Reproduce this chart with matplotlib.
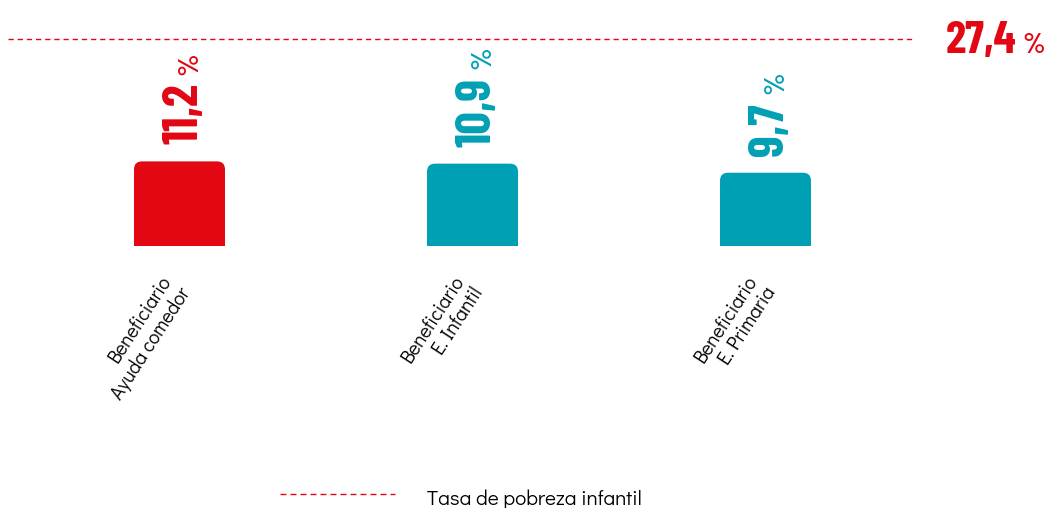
import matplotlib
matplotlib.use('Agg')
import matplotlib.pyplot as plt
from matplotlib.patches import FancyBboxPatch, Rectangle
from matplotlib.lines import Line2D
import matplotlib.transforms as mtransforms

# ---- data ----
categories = ['Beneficiario\nAyuda comedor', 'Beneficiario\nE. Infantil', 'Beneficiario\nE. Primaria']
values = [11.2, 10.9, 9.7]
value_labels = ['11,2', '10,9', '9,7']
reference_value = 27.4
reference_label = '27,4'
legend_label = 'Tasa de pobreza infantil'

RED = '#E30613'
TEAL = '#00A0B4'
colors = [RED, TEAL, TEAL]

NUM_FONT = ['Barlow Condensed', 'Roboto Condensed', 'DejaVu Sans']
TXT_FONT = ['Didact Gothic', 'Questrial', 'Lato', 'DejaVu Sans']

W, H = 1046, 508
fig = plt.figure(figsize=(W / 100, H / 100), dpi=100)
ax = fig.add_axes([0, 0, 1, 1])
ax.axis('off')

px_per_unit = 7.555
spacing = 293.0
x0 = 179.5
base_px = 246
ax.set_xlim(-x0 / spacing, (W - x0) / spacing)
ax.set_ylim(-(H - base_px) / px_per_unit, base_px / px_per_unit)

xs = list(range(len(values)))
bar_w = 91 / spacing
bars = ax.bar(xs, values, width=bar_w, color=colors, linewidth=0)

# rounded top corners
r_px = 8
for b, c in zip(bars, colors):
    b.set_visible(False)
    x, y, w, h = b.get_x(), b.get_y(), b.get_width(), b.get_height()
    rs = r_px / spacing
    p = FancyBboxPatch((x, y), w, h, boxstyle=f"round,pad=0,rounding_size={rs}",
                       mutation_aspect=spacing / px_per_unit, fc=c, ec='none', lw=0)
    ax.add_patch(p)
    ax.add_patch(Rectangle((x, y), w, h / 2, fc=c, ec='none', lw=0))

# reference dashed line
ax.axhline(reference_value, xmin=8 / W, xmax=915 / W, color=RED, lw=1.0,
           linestyle=(0, (3.8, 2.8)))

renderer = fig.canvas.get_renderer()

NUM_SIZE = 36
REF_SIZE = 33
PCT_SIZE = 21

# reference label
btrans = mtransforms.blended_transform_factory(fig.transFigure, ax.transData)
t_ref = ax.text(946 / W, reference_value, reference_label, color=RED, fontsize=REF_SIZE,
                fontweight='bold', family=NUM_FONT, ha='left', va='baseline',
                transform=mtransforms.offset_copy(btrans, fig=fig, y=-14, units='dots'))
bb = t_ref.get_window_extent(renderer)
ax.text(bb.x1 / W, reference_value, '%', color=RED, fontsize=PCT_SIZE, family=NUM_FONT,
        fontweight='semibold', ha='left', va='baseline',
        transform=mtransforms.offset_copy(btrans, fig=fig, x=6, y=-14, units='dots'))

# value labels
for xi, v, lab, c in zip(xs, values, value_labels, colors):
    tr = mtransforms.offset_copy(ax.transData, fig=fig, x=18, y=17, units='dots')
    t = ax.text(xi, v, lab, color=c, fontsize=NUM_SIZE, fontweight='bold', family=NUM_FONT,
                rotation=90, rotation_mode='anchor', ha='left', va='baseline', transform=tr)
    ln = t.get_window_extent(renderer).height
    tr2 = mtransforms.offset_copy(ax.transData, fig=fig, x=18, y=17 + ln + 9, units='dots')
    ax.text(xi, v, '%', color=c, fontsize=PCT_SIZE, family=NUM_FONT, fontweight='semibold',
            rotation=90, rotation_mode='anchor', ha='left', va='baseline', transform=tr2)

# category labels
for xi, cat in zip(xs, categories):
    tr = mtransforms.offset_copy(ax.transData, fig=fig, x=-20, y=-26, units='dots')
    ax.text(xi, 0, cat, fontsize=14, family=TXT_FONT, color='#000000',
            rotation=57, rotation_mode='anchor', ha='right', va='top',
            multialignment='right', linespacing=1.2, transform=tr)

# legend
fig.add_artist(Line2D([280 / W, 395 / W], [1 - 494 / H] * 2, transform=fig.transFigure,
                      color=RED, lw=1.0, linestyle=(0, (4.3, 2.9))))
fig.text(427 / W, 3 / H, legend_label, fontsize=15, family=TXT_FONT, color='#000000',
         ha='left', va='baseline')

fig.savefig('out.png', dpi=100)
